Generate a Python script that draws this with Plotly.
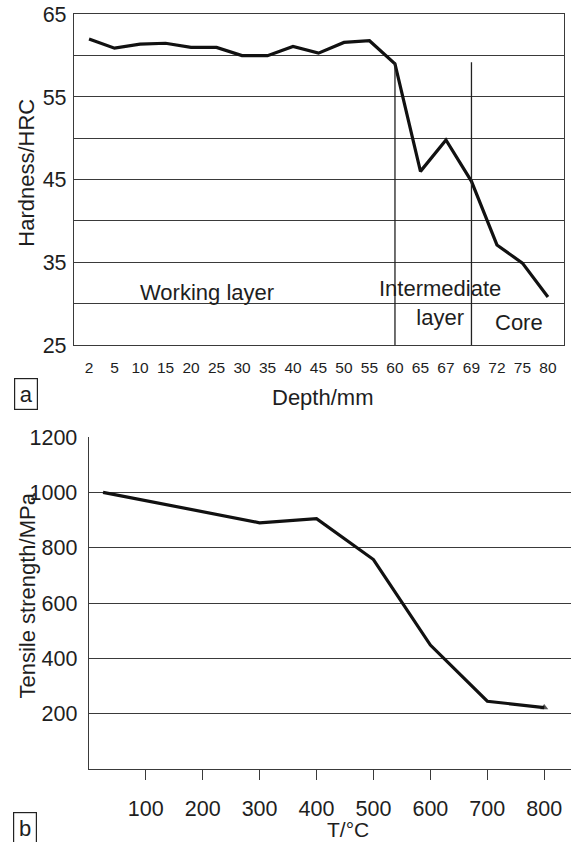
import plotly.graph_objects as go

W, H = 571, 842

# ---- data: panel a ----
depth_labels = ["2", "5", "10", "15", "20", "25", "30", "35", "40", "45",
                "50", "55", "60", "65", "67", "69", "72", "75", "80"]
hardness = [62.0, 60.9, 61.4, 61.5, 61.0, 61.0, 60.0, 60.0, 61.1, 60.3,
            61.6, 61.8, 59.0, 46.0, 49.8, 44.8, 37.1, 34.9, 30.8]
layer_boundaries = ["60", "69"]
boundary_top = 59.2
hard_ticks = [25, 30, 35, 40, 45, 50, 55, 60, 65]
hard_ticktext = ["25", "", "35", "", "45", "", "55", "", "65"]

# ---- data: panel b ----
temperature = [25, 300, 400, 500, 600, 700, 800]
tensile = [1000, 890, 905, 757, 448, 245, 222]
temp_ticks = [100, 200, 300, 400, 500, 600, 700, 800]
tens_ticks = [200, 400, 600, 800, 1000, 1200]

FONT = "Liberation Sans, Arial, sans-serif"
TXT = "#1e1e1e"
GRID = "#3a3a3a"


def px(x):
    return x / W


def py(y):
    return 1 - y / H


fig = go.Figure()

# panel a curve
fig.add_trace(go.Scatter(x=depth_labels, y=hardness, mode="lines",
                         line=dict(color="#111", width=3.2),
                         xaxis="x", yaxis="y", showlegend=False,
                         hoverinfo="skip"))
# layer boundaries
for b in layer_boundaries:
    fig.add_trace(go.Scatter(x=[b, b], y=[hard_ticks[0], boundary_top],
                             mode="lines", line=dict(color="#222", width=1.3),
                             xaxis="x", yaxis="y", showlegend=False,
                             hoverinfo="skip"))

# panel b curve (small arrow-like tip on the last point)
tip_sizes = [0] * (len(temperature) - 1) + [7]
fig.add_trace(go.Scatter(x=temperature, y=tensile, mode="lines+markers",
                         line=dict(color="#111", width=3.2),
                         marker=dict(size=tip_sizes, symbol="triangle-up",
                                     color="#111", line=dict(width=0)),
                         xaxis="x2", yaxis="y2", showlegend=False,
                         hoverinfo="skip"))

n = len(depth_labels)
fig.update_layout(
    width=W, height=H,
    margin=dict(l=0, r=0, t=0, b=0, pad=0, autoexpand=False),
    paper_bgcolor="white", plot_bgcolor="white",
    font=dict(family=FONT, color=TXT, size=21),
    xaxis=dict(domain=[px(74), px(564)], anchor="y", automargin=False,
               type="category", categoryorder="array",
               categoryarray=depth_labels,
               range=[-0.59, n - 1 + 0.63],
               showgrid=False, showline=True, mirror=True,
               linecolor=GRID, linewidth=1.3, ticks="",
               tickfont=dict(size=15.5, color=TXT),
               ticklabelstandoff=8, zeroline=False),
    yaxis=dict(domain=[py(345), py(14.3)], anchor="x", automargin=False,
               range=[25, 65], tickvals=hard_ticks, ticktext=hard_ticktext,
               showgrid=True, gridcolor=GRID, gridwidth=1.3,
               showline=True, mirror=True, linecolor=GRID, linewidth=1.3,
               ticks="", tickfont=dict(size=21.5, color=TXT),
               ticklabelstandoff=2, zeroline=False),
    xaxis2=dict(domain=[px(88.8), 1.0], anchor="y2", automargin=False,
                range=[0, 847], tickvals=temp_ticks,
                showgrid=False, showline=True, linecolor=GRID, linewidth=1.3,
                ticks="outside", ticklen=10, tickcolor=GRID, tickwidth=1.3,
                tickfont=dict(size=21.5, color=TXT),
                ticklabelstandoff=10, zeroline=False),
    yaxis2=dict(domain=[py(769), py(437)], anchor="x2", automargin=False,
                range=[0, 1200], tickvals=tens_ticks,
                showgrid=True, gridcolor=GRID, gridwidth=1.3,
                showline=True, linecolor=GRID, linewidth=1.3,
                ticks="", tickfont=dict(size=21.5, color=TXT),
                ticklabelstandoff=6, zeroline=False),
)

C = dict(xanchor="center", yanchor="middle", showarrow=False)
ann = []
# in-plot labels for panel a
ann.append(dict(x=4.63, y=31.3, xref="x", yref="y", text="Working layer",
                font=dict(size=22, color=TXT), **C))
ann.append(dict(x=13.75, y=30.05, xref="x", yref="y",
                text="Intermediate<br>layer",
                font=dict(size=22, color=TXT), **C))
ann.append(dict(x=16.86, y=27.7, xref="x", yref="y", text="Core",
                font=dict(size=22, color=TXT), **C))
# axis titles
ann.append(dict(x=px(322), y=py(397), xref="paper", yref="paper",
                text="Depth/mm", font=dict(size=22, color=TXT), **C))
ann.append(dict(x=px(25.7), y=py(173), xref="paper", yref="paper",
                text="Hardness/HRC", textangle=-90,
                font=dict(size=22, color=TXT), **C))
ann.append(dict(x=px(348), y=py(829), xref="paper", yref="paper",
                text="T/°C", font=dict(size=21, color=TXT), **C))
ann.append(dict(x=px(26.5), y=py(596), xref="paper", yref="paper",
                text="Tensile strength/MPa", textangle=-90,
                font=dict(size=22, color=TXT), **C))
# panel letters
ann.append(dict(x=px(26), y=py(394), xref="paper", yref="paper",
                text="a", width=20, height=28,
                bordercolor="#222", borderwidth=1.2, borderpad=1,
                font=dict(size=22, color=TXT), **C))
ann.append(dict(x=px(24.7), y=py(828), xref="paper", yref="paper",
                text="b", width=20, height=28,
                bordercolor="#222", borderwidth=1.2, borderpad=1,
                font=dict(size=22, color=TXT), **C))
fig.update_layout(annotations=ann)

fig.write_html("out.html",
               config={"displayModeBar": False},
               post_script="document.body.style.margin='0px';"
                           "document.body.style.padding='0px';"
                           "document.body.style.overflow='hidden';")
